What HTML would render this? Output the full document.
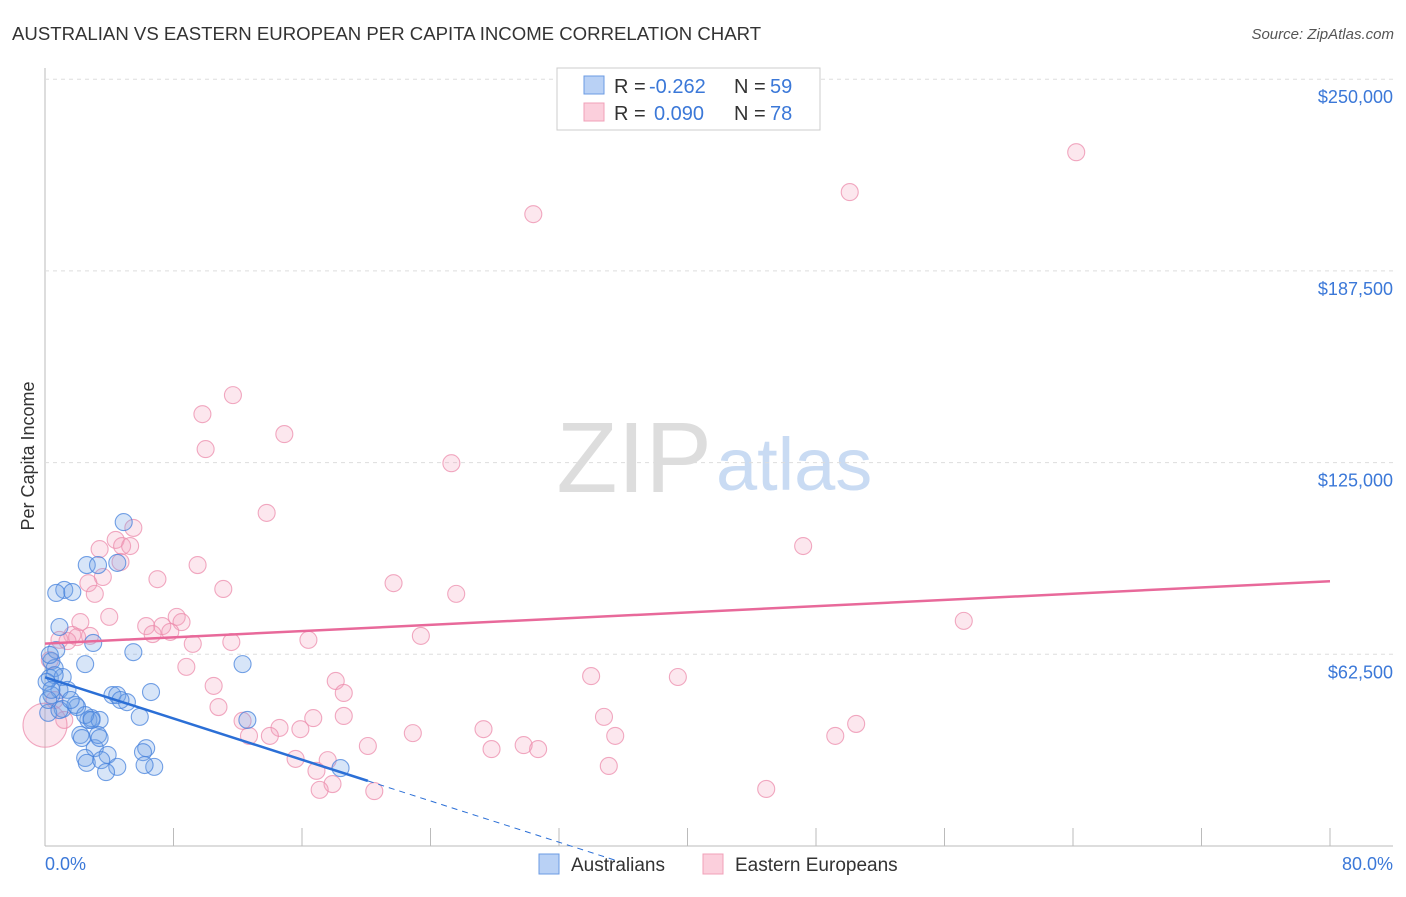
<!DOCTYPE html>
<html><head><meta charset="utf-8"><style>
body{margin:0;background:#fff;font-family:"Liberation Sans",sans-serif;}
svg text{font-family:"Liberation Sans",sans-serif;}
</style></head><body>
<svg id="c" width="1406" height="892" xmlns="http://www.w3.org/2000/svg">
<text x="12" y="40" font-size="18.6" fill="#333">AUSTRALIAN VS EASTERN EUROPEAN PER CAPITA INCOME CORRELATION CHART</text>
<text x="1394" y="39" font-size="15" fill="#555" font-style="italic" text-anchor="end">Source: ZipAtlas.com</text>
<text x="712" y="492" font-size="100" fill="#ddd" text-anchor="end" font-family="Liberation Serif">ZIP</text>
<text x="716" y="490" font-size="74" fill="#c9dbf3">atlas</text>
<g id="grid"></g><g id="pts"></g><g id="lines"></g>
<text transform="translate(34,456) rotate(-90)" font-size="18" fill="#333" text-anchor="middle">Per Capita Income</text>
<text x="45" y="870" font-size="18" fill="#3b78d8">0.0%</text>
<text x="1393" y="870" font-size="18" fill="#3b78d8" text-anchor="end">80.0%</text>
<g>
<rect x="557" y="68" width="263" height="62" fill="#fff" stroke="#ccc"/>
<rect x="584" y="76" width="20" height="18" fill="#b9d1f5" stroke="#6b9be3"/>
<rect x="584" y="103" width="20" height="18" fill="#fbcfdc" stroke="#f0a0b8"/>
<text x="614" y="93" font-size="20" fill="#333">R =</text>
<text x="649" y="93" font-size="20" fill="#3b78d8">-0.262</text>
<text x="734" y="93" font-size="20" fill="#333">N =</text>
<text x="770" y="93" font-size="20" fill="#3b78d8">59</text>
<text x="614" y="120" font-size="20" fill="#333">R =</text>
<text x="654" y="120" font-size="20" fill="#3b78d8">0.090</text>
<text x="734" y="120" font-size="20" fill="#333">N =</text>
<text x="770" y="120" font-size="20" fill="#3b78d8">78</text>
</g>
<g>
<rect x="539" y="854" width="20" height="20" fill="#b9d1f5" stroke="#6b9be3"/>
<text x="571" y="871" font-size="19" fill="#333">Australians</text>
<rect x="703" y="854" width="20" height="20" fill="#fbcfdc" stroke="#f0a0b8"/>
<text x="735" y="871" font-size="19" fill="#333">Eastern Europeans</text>
</g>
</svg>
<script>
const yTicks=[62500,125000,187500,250000];
const yTickLabels=["$62,500","$125,000","$187,500","$250,000"];
const blueX=[4.9,2.6,3.3,4.5,1.2,0.7,1.7,0.9,5.5,3.0,12.3,2.5,0.4,0.6,0.3,1.1,0.9,0.4,1.4,6.6,4.2,4.5,5.1,1.1,2.0,1.9,2.7,2.9,3.4,5.9,12.6,2.2,2.3,3.1,3.3,3.9,2.5,2.6,6.3,6.1,3.5,4.5,6.8,6.2,3.8,18.4,0.2,0.2,0.6,0.9,0.1,0.4,1.6,2.5,2.9,4.7,0.7,0.3,3.4];
const blueY=[105.6,91.6,91.6,92.3,83.5,82.5,82.8,71.4,63.2,66.2,59.3,59.3,60.3,58.0,54.8,55.1,50.9,49.2,50.9,50.2,49.2,49.2,46.9,44.7,45.3,46.0,41.1,41.7,41.1,42.1,41.1,36.2,35.2,31.9,36.2,29.7,28.7,27.1,31.9,30.6,28.0,25.8,25.8,26.4,24.1,25.4,43.4,47.6,55.7,44.3,53.5,50.9,47.6,42.7,41.1,47.6,63.9,62.3,35.2];
const pinkX=[64.2,50.1,30.4,11.7,9.8,14.9,10.0,25.3,13.8,5.5,47.2,3.4,4.4,4.8,5.3,4.7,9.5,7.0,3.6,2.7,3.1,11.1,21.7,25.6,57.2,2.2,4.0,6.3,7.3,8.2,8.5,6.7,7.8,23.4,16.4,9.2,11.6,1.7,2.8,2.0,1.4,8.8,34.0,39.4,10.5,18.1,18.6,10.8,12.3,14.6,34.8,27.3,50.5,22.9,15.9,18.6,16.7,12.7,14.0,29.8,27.8,30.7,35.5,49.2,20.1,15.6,17.6,35.1,16.9,17.9,17.1,20.5,44.9,0.9,0.3,0.6,1.2,0];
const pinkY=[226.2,213.2,206.0,147.0,140.8,134.3,129.4,124.8,108.6,103.7,97.8,96.8,99.8,97.8,97.8,92.6,91.6,87.0,87.7,85.7,82.2,83.8,85.7,82.2,73.4,73.0,74.7,71.7,71.7,74.7,73.0,69.1,69.8,68.5,67.2,65.9,66.5,68.8,68.5,68.1,66.8,58.4,55.4,55.1,52.2,53.8,49.9,45.3,40.8,38.5,42.1,38.1,39.8,36.8,38.1,42.4,41.7,35.9,35.9,32.9,31.6,31.6,35.9,35.9,32.6,28.4,28.0,26.1,24.5,20.2,18.3,17.9,18.6,67.2,60.6,47.6,41.1,39.4];
const blueTrend=[55.0,-1.68];   // intercept ($k), slope per %
const pinkTrend=[66.0,0.254];
const NS="http://www.w3.org/2000/svg";
const X0=45,X1=1330,Y0=846,YPX=191.7/62.5;
const sx=v=>X0+v/80*(X1-X0);
const sy=v=>Y0-v*YPX;
function mk(t,a,p){const e=document.createElementNS(NS,t);for(const k in a)e.setAttribute(k,a[k]);p.appendChild(e);return e;}
const grid=document.getElementById('grid');
mk('line',{x1:45,y1:68,x2:45,y2:846,stroke:'#bbb'},grid);
mk('line',{x1:45,y1:846,x2:1393,y2:846,stroke:'#bbb'},grid);
for(let i=0;i<=10;i++){const l=mk('line',{x1:sx(i*8),y1:828,x2:sx(i*8),y2:846,stroke:'#bbb'},grid);

}
yTicks.forEach((t,i)=>{const y=sy(t/1000);
const g=mk('line',{x1:45,y1:y,x2:1393,y2:y,stroke:'#ddd','stroke-dasharray':'4,4'},grid);


const tx=mk('text',{x:1393,y:y+24,'font-size':18,fill:'#3b78d8','text-anchor':'end'},grid);tx.textContent=yTickLabels[i];

});
const pts=document.getElementById('pts');
pinkX.forEach((x,i)=>{const c=mk('circle',{cx:sx(x),cy:sy(pinkY[i]),r:i==pinkX.length-1?22:8.5,fill:'rgba(244,160,188,0.25)',stroke:'rgba(236,140,172,0.75)','stroke-width':1.1},pts);

});
blueX.forEach((x,i)=>{const c=mk('circle',{cx:sx(x),cy:sy(blueY[i]),r:8.5,fill:'rgba(110,160,230,0.28)',stroke:'rgba(70,130,220,0.75)','stroke-width':1.1},pts);

});
const L=document.getElementById('lines');
const bt=x=>blueTrend[0]+x*blueTrend[1];
let l1=mk('line',{x1:sx(0),y1:sy(bt(0)),x2:sx(20.1),y2:sy(bt(20.1)),stroke:'#2b6fd6','stroke-width':2.5},L);


let l2=mk('line',{x1:sx(20.1),y1:sy(bt(20.1)),x2:sx(35.5),y2:sy(bt(35.5)),stroke:'#2b6fd6','stroke-width':1,'stroke-dasharray':'6,5'},L);


const pt=x=>pinkTrend[0]+x*pinkTrend[1];
let l3=mk('line',{x1:sx(0),y1:sy(pt(0)),x2:sx(80),y2:sy(pt(80)),stroke:'#e8699a','stroke-width':2.5},L);


</script>
</body></html>
